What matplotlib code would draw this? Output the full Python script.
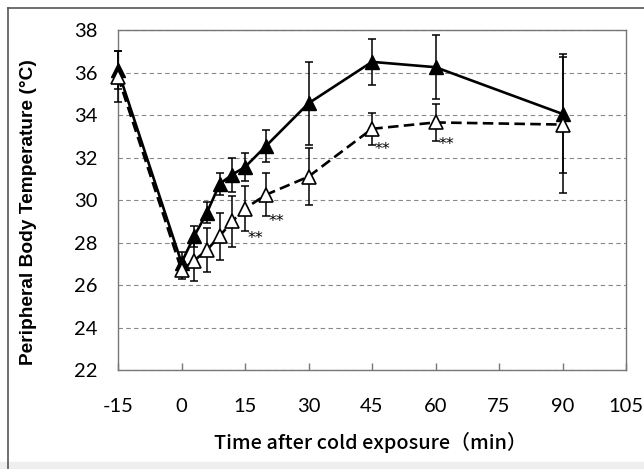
import matplotlib
matplotlib.use("Agg")
import matplotlib.pyplot as plt
from matplotlib.patches import Rectangle
from matplotlib.lines import Line2D

time = [-15, 0, 3, 6, 9, 12, 15, 20, 30, 45, 60, 90]
filled_mean = [36.1, 27.05, 28.3, 29.4, 30.75, 31.2, 31.55, 32.55, 34.55, 36.5, 36.25, 34.05]
filled_err = [0.9, 0.5, 0.5, 0.5, 0.5, 0.8, 0.65, 0.75, 1.95, 1.1, 1.5, 2.8]
open_mean = [35.8, 26.7, 27.15, 27.65, 28.3, 29.0, 29.6, 30.25, 31.1, 33.35, 33.65, 33.55]
open_err = [1.2, 0.4, 0.95, 1.05, 1.1, 1.2, 1.05, 1.0, 1.35, 0.75, 0.85, 3.2]
sig_x = [17.5, 22.5, 47.5, 62.5]
sig_y = [28.2, 29.0, 32.4, 32.6]
sig_label = ["**", "**", "**", "**"]
xticks = [-15, 0, 15, 30, 45, 60, 75, 90, 105]
yticks = [22, 24, 26, 28, 30, 32, 34, 36, 38]

fig = plt.figure(figsize=(6.44, 4.69), dpi=100)
fig.patch.set_facecolor("white")
# outer frame
fig.add_artist(Line2D([8/644, 8/644], [0, 1 - 8/469], transform=fig.transFigure, color="#555555", lw=1.2))
fig.add_artist(Line2D([8/644, 1], [1 - 8/469, 1 - 8/469], transform=fig.transFigure, color="#555555", lw=1.2))
fig.add_artist(Rectangle((0, 0), 1, 7/469, transform=fig.transFigure, color="#eeeeee", zorder=0))

ax = fig.add_axes([118/644, 1 - 370/469, (626 - 118)/644, (370 - 30)/469])
ax.set_xlim(-15, 105)
ax.set_ylim(22, 38)
for s in ax.spines.values():
    s.set_color("#777777")
    s.set_linewidth(1.0)

ax.set_yticks(yticks)
ax.set_xticks(xticks)
ax.tick_params(axis="y", length=0, pad=15)
ax.tick_params(axis="x", direction="in", length=5, width=1, color="#777777", pad=20)
tickfont = dict(family=["Lato", "DejaVu Sans"], size=14.5)
ax.set_xticklabels([str(v) for v in xticks], **tickfont)
ax.set_yticklabels([str(v) for v in yticks], **tickfont)
ax.yaxis.grid(True, linestyle=(0, (4, 3)), color="#888888", linewidth=0.8)
ax.set_axisbelow(True)

ax.errorbar(time, filled_mean, yerr=filled_err, fmt="none", ecolor="black", elinewidth=1.1,
            capsize=3, capthick=1.1, zorder=3, clip_on=False)
ax.errorbar(time, open_mean, yerr=open_err, fmt="none", ecolor="black", elinewidth=1.1,
            capsize=3, capthick=1.1, zorder=3, clip_on=False)
ax.plot(time, filled_mean, color="black", lw=1.9, marker="^", markersize=10, markerfacecolor="black",
        markeredgecolor="black", zorder=4, clip_on=False)
ax.plot(time, open_mean, color="black", lw=1.9, linestyle=(0, (4, 2)), marker="^", markersize=10,
        markerfacecolor="white", markeredgecolor="black", markeredgewidth=1.2, zorder=5, clip_on=False)

for x, y, lab in zip(sig_x, sig_y, sig_label):
    ax.text(x, y, lab, ha="center", va="center", fontsize=11.5, family="DejaVu Sans")

fig.text(29/644, 1 - 212/469, "Peripheral Body Temperature (°C)", rotation=90, ha="center", va="center",
         fontsize=13.8, fontweight="bold", family=["Liberation Sans", "DejaVu Sans"])
fig.text(370/644, 1 - 442/469, "Time after cold exposure（min）", ha="center", va="center",
         fontsize=14.3, fontweight="medium", family=["Noto Sans CJK JP", "DejaVu Sans"])

fig.savefig("out.png", dpi=100, facecolor="white")
